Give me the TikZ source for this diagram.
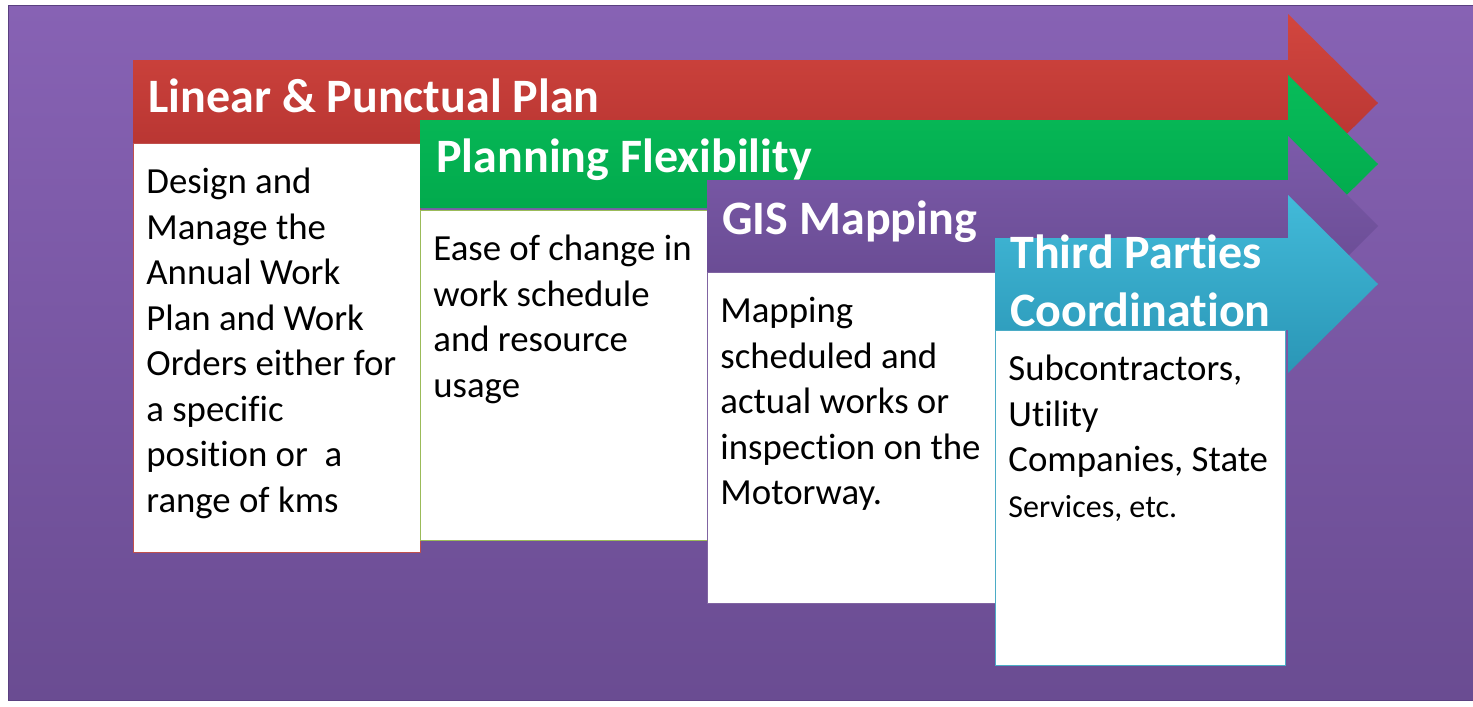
\documentclass[tikz,border=0pt]{standalone}
\usepackage{fontspec}
\setmainfont{Carlito}[RawFeature={-liga;-clig;-calt;-dlig;-rlig}]
\usepackage{tikz}
\usetikzlibrary{positioning}

\definecolor{bgTop}{HTML}{8762B4}
\definecolor{bgBot}{HTML}{6A4C92}
\definecolor{bgEdge}{HTML}{5A4080}
\definecolor{redTop}{HTML}{D2463F}
\definecolor{redBot}{HTML}{B0302E}
\definecolor{redLine}{HTML}{C0504D}
\definecolor{greenTop}{HTML}{08BC5A}
\definecolor{greenBot}{HTML}{00A448}
\definecolor{greenLine}{HTML}{9BBB59}
\definecolor{purpTop}{HTML}{7C5BAA}
\definecolor{purpBot}{HTML}{65488E}
\definecolor{purpLine}{HTML}{8064A2}
\definecolor{blueTop}{HTML}{42BAD9}
\definecolor{blueBot}{HTML}{2A96B6}
\definecolor{blueLine}{HTML}{4BACC6}

\tikzstyle{headText}=[text=white, font=\bfseries\fontsize{24}{29}\selectfont, anchor=north west, inner sep=0pt, align=left]
\tikzstyle{bodyText}=[text=black, font=\fontsize{18.4}{22.75}\selectfont, inner sep=0pt, align=left]
\tikzstyle{textBox}=[fill=white, line width=0.6pt, anchor=north west, inner sep=0pt]

\begin{document}
\begin{tikzpicture}[x=0.5pt, y=-0.5pt]

    \useasboundingbox (0,0) rectangle (1473,707);

    % background

    \fill[white] (0,0) rectangle (1473,707);
    \shade[top color=bgTop, bottom color=bgBot, draw=bgEdge, line width=0.5pt] (8,5) rectangle (1473,700);

    % stage 1

    \shade[top color=redTop, bottom color=redBot] (133,60) -- (1288,60) -- (1288,14) -- (1378,103) -- (1288,192) -- (1288,146) -- (133,146) -- cycle;
    \node[textBox, draw=redLine, minimum width=143.5pt, minimum height=204.5pt] (box1) at (133,143) {};
    \node[headText] (head1) at (148,78) {Linear \& Punctual Plan};
    \node[bodyText, below right=12.5pt and 6.5pt of box1.north west] (desc1) {Design and\\ Manage the\\ Annual Work\\ Plan and Work\\ Orders either for\\ a specific\\ position or\ \ a\\ range of kms};

    % stage 2

    \shade[top color=greenTop, bottom color=greenBot] (420,120) -- (1288,120) -- (1288,75) -- (1378,164) -- (1288,253) -- (1288,208) -- (420,208) -- cycle;
    \node[textBox, draw=greenLine, minimum width=143.5pt, minimum height=165pt] (box2) at (420,210) {};
    \node[headText] (head2) at (436,138) {Planning Flexibility};
    \node[bodyText, below right=12.5pt and 6.5pt of box2.north west] (desc2) {Ease of change in\\ work schedule\\ and resource\\ usage};

    % stage 3

    \shade[top color=purpTop, bottom color=purpBot] (707,180) -- (1288,180) -- (1288,136) -- (1378,226) -- (1288,316) -- (1288,272) -- (707,272) -- cycle;
    \node[textBox, draw=purpLine, minimum width=144pt, minimum height=165.5pt] (box3) at (707,272) {};
    \node[headText] (head3) at (722,200) {GIS Mapping};
    \node[bodyText, below right=12.5pt and 6.5pt of box3.north west] (desc3) {Mapping\\ scheduled and\\ actual works or\\ inspection on the\\ Motorway.};

    % stage 4

    \shade[top color=blueTop, bottom color=blueBot] (995,238) -- (1288,238) -- (1288,195) -- (1378,284) -- (1288,373) -- (1288,330) -- (995,330) -- cycle;
    \node[textBox, draw=blueLine, minimum width=145pt, minimum height=167.5pt] (box4) at (995,330) {};
    \node[headText] (head4) at (1010,234) {Third Parties\\ Coordination};
    \node[bodyText, below right=12.5pt and 6.5pt of box4.north west] (desc4) {Subcontractors,\\ Utility\\ Companies, State\\ {\fontsize{16}{22.75}\selectfont Services, etc.}};

\end{tikzpicture}
\end{document}
